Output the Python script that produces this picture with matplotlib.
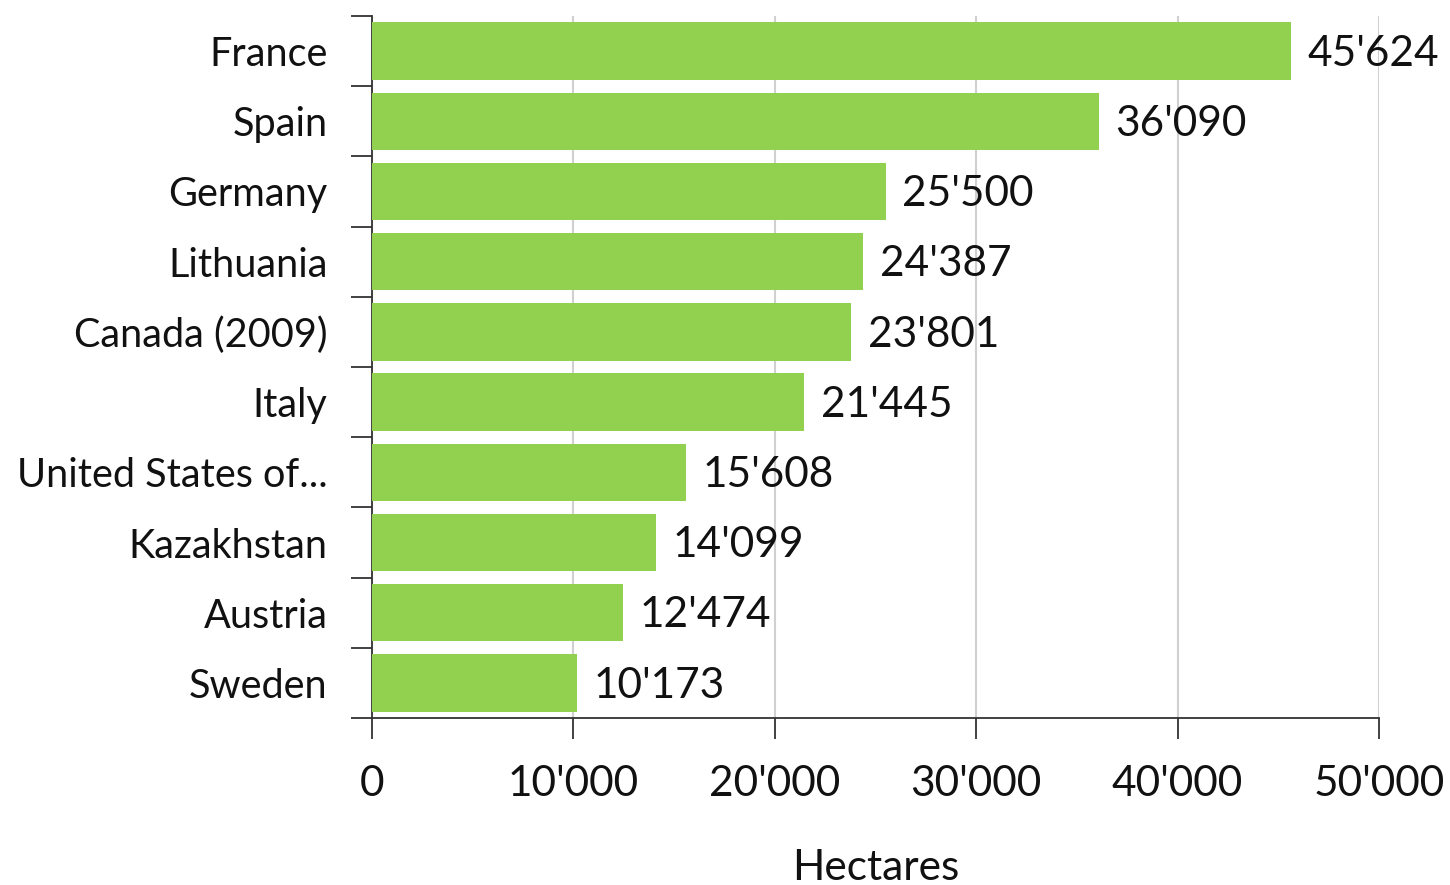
import matplotlib
matplotlib.use("Agg")
import matplotlib.pyplot as plt
from matplotlib.ticker import FuncFormatter, MultipleLocator
import numpy as np

countries = ["France", "Spain", "Germany", "Lithuania", "Canada (2009)", "Italy",
             "United States of...", "Kazakhstan", "Austria", "Sweden"]
values = [45624, 36090, 25500, 24387, 23801, 21445, 15608, 14099, 12474, 10173]

def fmt(v):
    return f"{int(v):,}".replace(",", "'")

FS = 30.5
FSY = 28.5
plt.rcParams['font.family'] = ['Lato', 'DejaVu Sans']
fig = plt.figure(figsize=(14.5, 8.85), dpi=100)
ax = fig.add_axes([372/1450, 1-718/885, (1379-372)/1450, (718-16)/885])

n = len(countries)
ypos = np.arange(n)
ax.barh(ypos, values, height=0.82, color="#92D050", zorder=3)
ax.set_ylim(n - 0.5, -0.5)
ax.set_xlim(0, 50000)

ax.set_yticks(ypos)
ax.set_yticklabels(countries, fontsize=FSY, color="#111111")
ax.set_yticks(np.arange(-0.5, n, 1), minor=True)
ax.tick_params(axis='y', which='major', length=0, pad=32)
ax.tick_params(axis='y', which='minor', length=15, width=1.3, color="#333333")

ax.xaxis.set_major_locator(MultipleLocator(10000))
ax.xaxis.set_major_formatter(FuncFormatter(lambda v, p: fmt(v)))
ax.tick_params(axis='x', which='major', length=15, width=1.3, color="#333333",
               labelsize=FS, pad=19, labelcolor="#111111")
ax.grid(axis='x', color="#d0d0d0", linewidth=1.5, zorder=0)
ax.set_axisbelow(True)

for s in ["top", "right"]:
    ax.spines[s].set_visible(False)
for s in ["left", "bottom"]:
    ax.spines[s].set_color("#333333")
    ax.spines[s].set_linewidth(1.3)

for y, v in zip(ypos, values):
    ax.annotate(fmt(v), xy=(v, y), xytext=(12, -2), textcoords="offset points",
                ha="left", va="center", fontsize=FS, color="#111111")

ax.set_xlabel("Hectares", fontsize=FS, color="#111111", labelpad=33)

fig.savefig("out.png", dpi=100, facecolor="white")
